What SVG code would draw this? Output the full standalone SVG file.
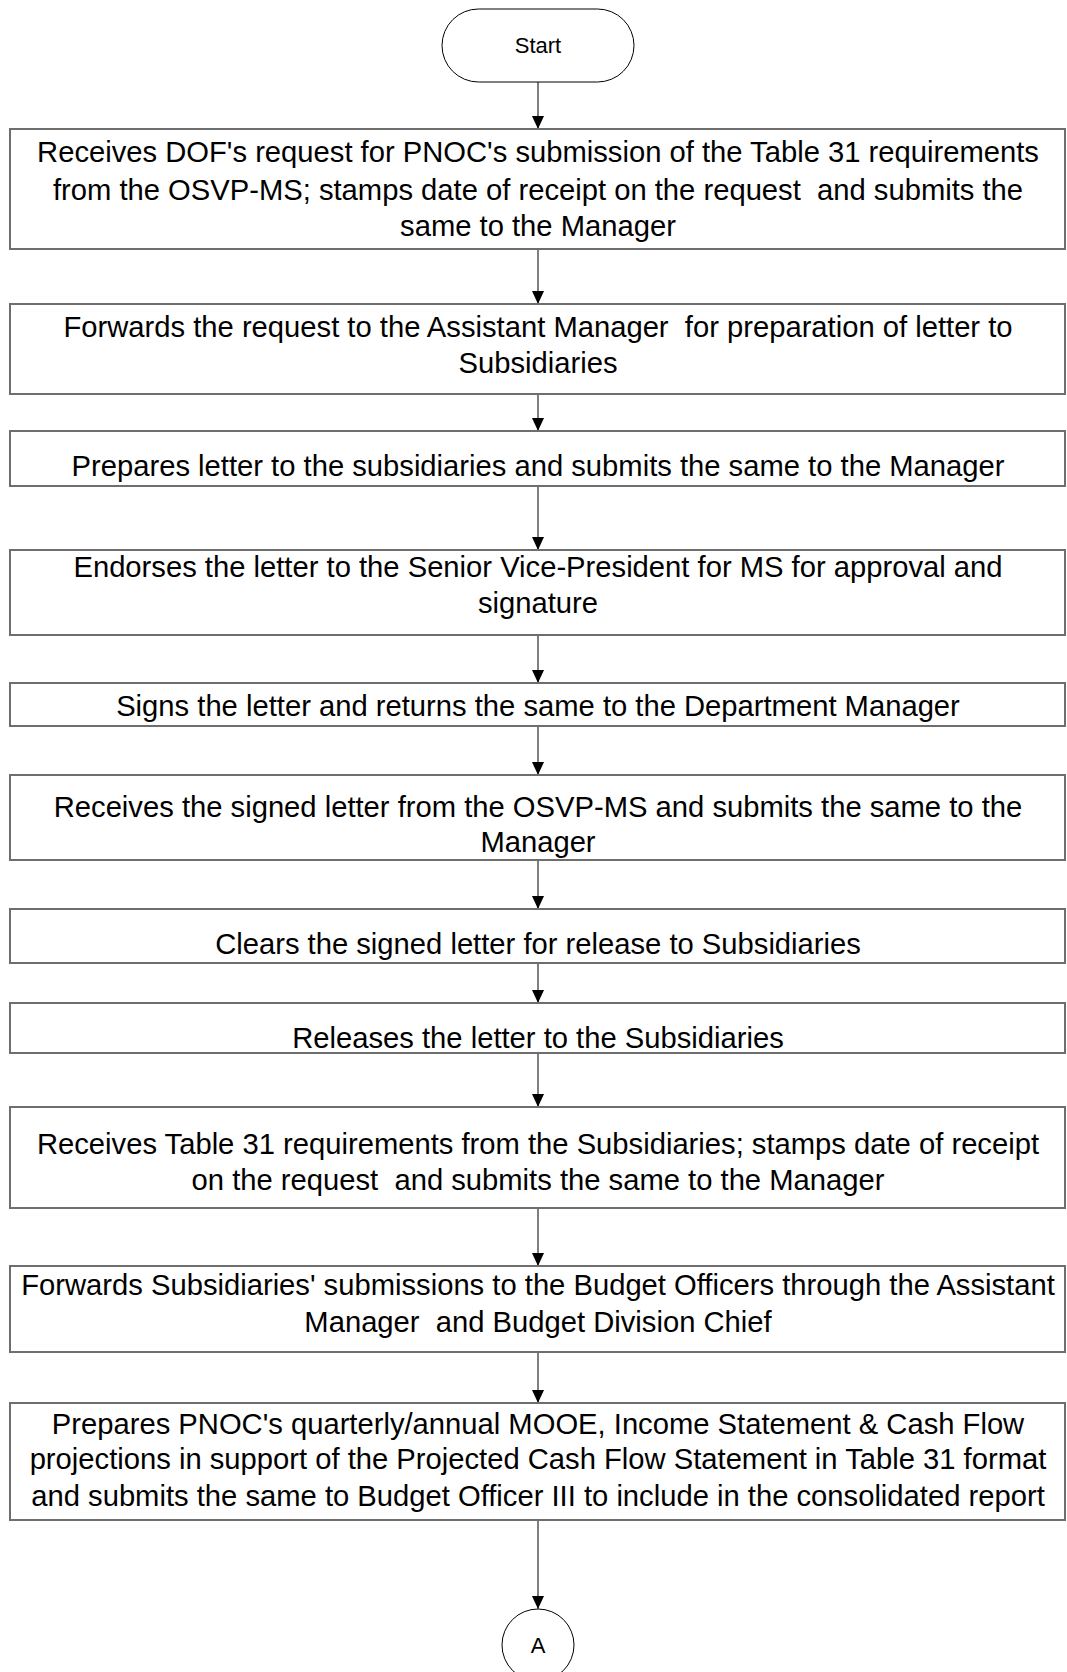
<svg xmlns="http://www.w3.org/2000/svg" width="1067" height="1672" viewBox="0 0 1067 1672">
<defs>
<marker id="ah" markerWidth="12" markerHeight="13" refX="13" refY="6" orient="auto" markerUnits="userSpaceOnUse">
<path d="M0,0 L13,6 L0,12 Z" fill="#000"/>
</marker>
<style>
.box{fill:#fff;stroke:#6e6e6e;stroke-width:2}
.term{fill:#fff;stroke:#000;stroke-width:1}
.t{font-family:"Liberation Sans",Arial,sans-serif;font-size:29.2px;fill:#000;text-anchor:middle}
.s{font-family:"Liberation Sans",Arial,sans-serif;font-size:22px;fill:#000;text-anchor:middle}
.c{stroke:#555;stroke-width:1.5;fill:none;marker-end:url(#ah)}
</style>
</defs>
<g id="connectors">
<line class="c" x1="538" y1="82" x2="538" y2="129"/>
<line class="c" x1="538" y1="249" x2="538" y2="304"/>
<line class="c" x1="538" y1="394" x2="538" y2="431"/>
<line class="c" x1="538" y1="486" x2="538" y2="550"/>
<line class="c" x1="538" y1="635" x2="538" y2="683"/>
<line class="c" x1="538" y1="726" x2="538" y2="775"/>
<line class="c" x1="538" y1="860" x2="538" y2="909"/>
<line class="c" x1="538" y1="963" x2="538" y2="1003"/>
<line class="c" x1="538" y1="1053" x2="538" y2="1107"/>
<line class="c" x1="538" y1="1208" x2="538" y2="1266"/>
<line class="c" x1="538" y1="1352" x2="538" y2="1403"/>
<line class="c" x1="538" y1="1520" x2="538" y2="1609"/>
</g>
<g id="start">
<rect class="term" x="442" y="9" width="192" height="73" rx="36.5" ry="36.5"/>
<text class="s" x="538" y="53">Start</text>
</g>
<g id="step1">
<rect class="box" x="10" y="129" width="1055" height="120"/>
<text class="t" x="538" y="162">Receives DOF's request for PNOC's submission of the Table 31 requirements</text>
<text class="t" x="538" y="200" xml:space="preserve">from the OSVP-MS; stamps date of receipt on the request  and submits the</text>
<text class="t" x="538" y="236">same to the Manager</text>
</g>
<g id="step2">
<rect class="box" x="10" y="304" width="1055" height="90"/>
<text class="t" x="538" y="337" xml:space="preserve">Forwards the request to the Assistant Manager  for preparation of letter to</text>
<text class="t" x="538" y="373">Subsidiaries</text>
</g>
<g id="step3">
<rect class="box" x="10" y="431" width="1055" height="55"/>
<text class="t" x="538" y="476">Prepares letter to the subsidiaries and submits the same to the Manager</text>
</g>
<g id="step4">
<rect class="box" x="10" y="550" width="1055" height="85"/>
<text class="t" x="538" y="577">Endorses the letter to the Senior Vice-President for MS for approval and</text>
<text class="t" x="538" y="613">signature</text>
</g>
<g id="step5">
<rect class="box" x="10" y="683" width="1055" height="43"/>
<text class="t" x="538" y="716">Signs the letter and returns the same to the Department Manager</text>
</g>
<g id="step6">
<rect class="box" x="10" y="775" width="1055" height="85"/>
<text class="t" x="538" y="817">Receives the signed letter from the OSVP-MS and submits the same to the</text>
<text class="t" x="538" y="852">Manager</text>
</g>
<g id="step7">
<rect class="box" x="10" y="909" width="1055" height="54"/>
<text class="t" x="538" y="954">Clears the signed letter for release to Subsidiaries</text>
</g>
<g id="step8">
<rect class="box" x="10" y="1003" width="1055" height="50"/>
<text class="t" x="538" y="1048">Releases the letter to the Subsidiaries</text>
</g>
<g id="step9">
<rect class="box" x="10" y="1107" width="1055" height="101"/>
<text class="t" x="538" y="1154">Receives Table 31 requirements from the Subsidiaries; stamps date of receipt</text>
<text class="t" x="538" y="1190" xml:space="preserve">on the request  and submits the same to the Manager</text>
</g>
<g id="step10">
<rect class="box" x="10" y="1266" width="1055" height="86"/>
<text class="t" x="538" y="1295">Forwards Subsidiaries' submissions to the Budget Officers through the Assistant</text>
<text class="t" x="538" y="1332" xml:space="preserve">Manager  and Budget Division Chief</text>
</g>
<g id="step11">
<rect class="box" x="10" y="1403" width="1055" height="117"/>
<text class="t" x="538" y="1434">Prepares PNOC's quarterly/annual MOOE, Income Statement &amp; Cash Flow</text>
<text class="t" x="538" y="1469">projections in support of the Projected Cash Flow Statement in Table 31 format</text>
<text class="t" x="538" y="1506">and submits the same to Budget Officer III to include in the consolidated report</text>
</g>
<g id="connectorA">
<circle class="term" cx="538" cy="1645" r="36"/>
<text class="s" x="538" y="1653">A</text>
</g>
</svg>
